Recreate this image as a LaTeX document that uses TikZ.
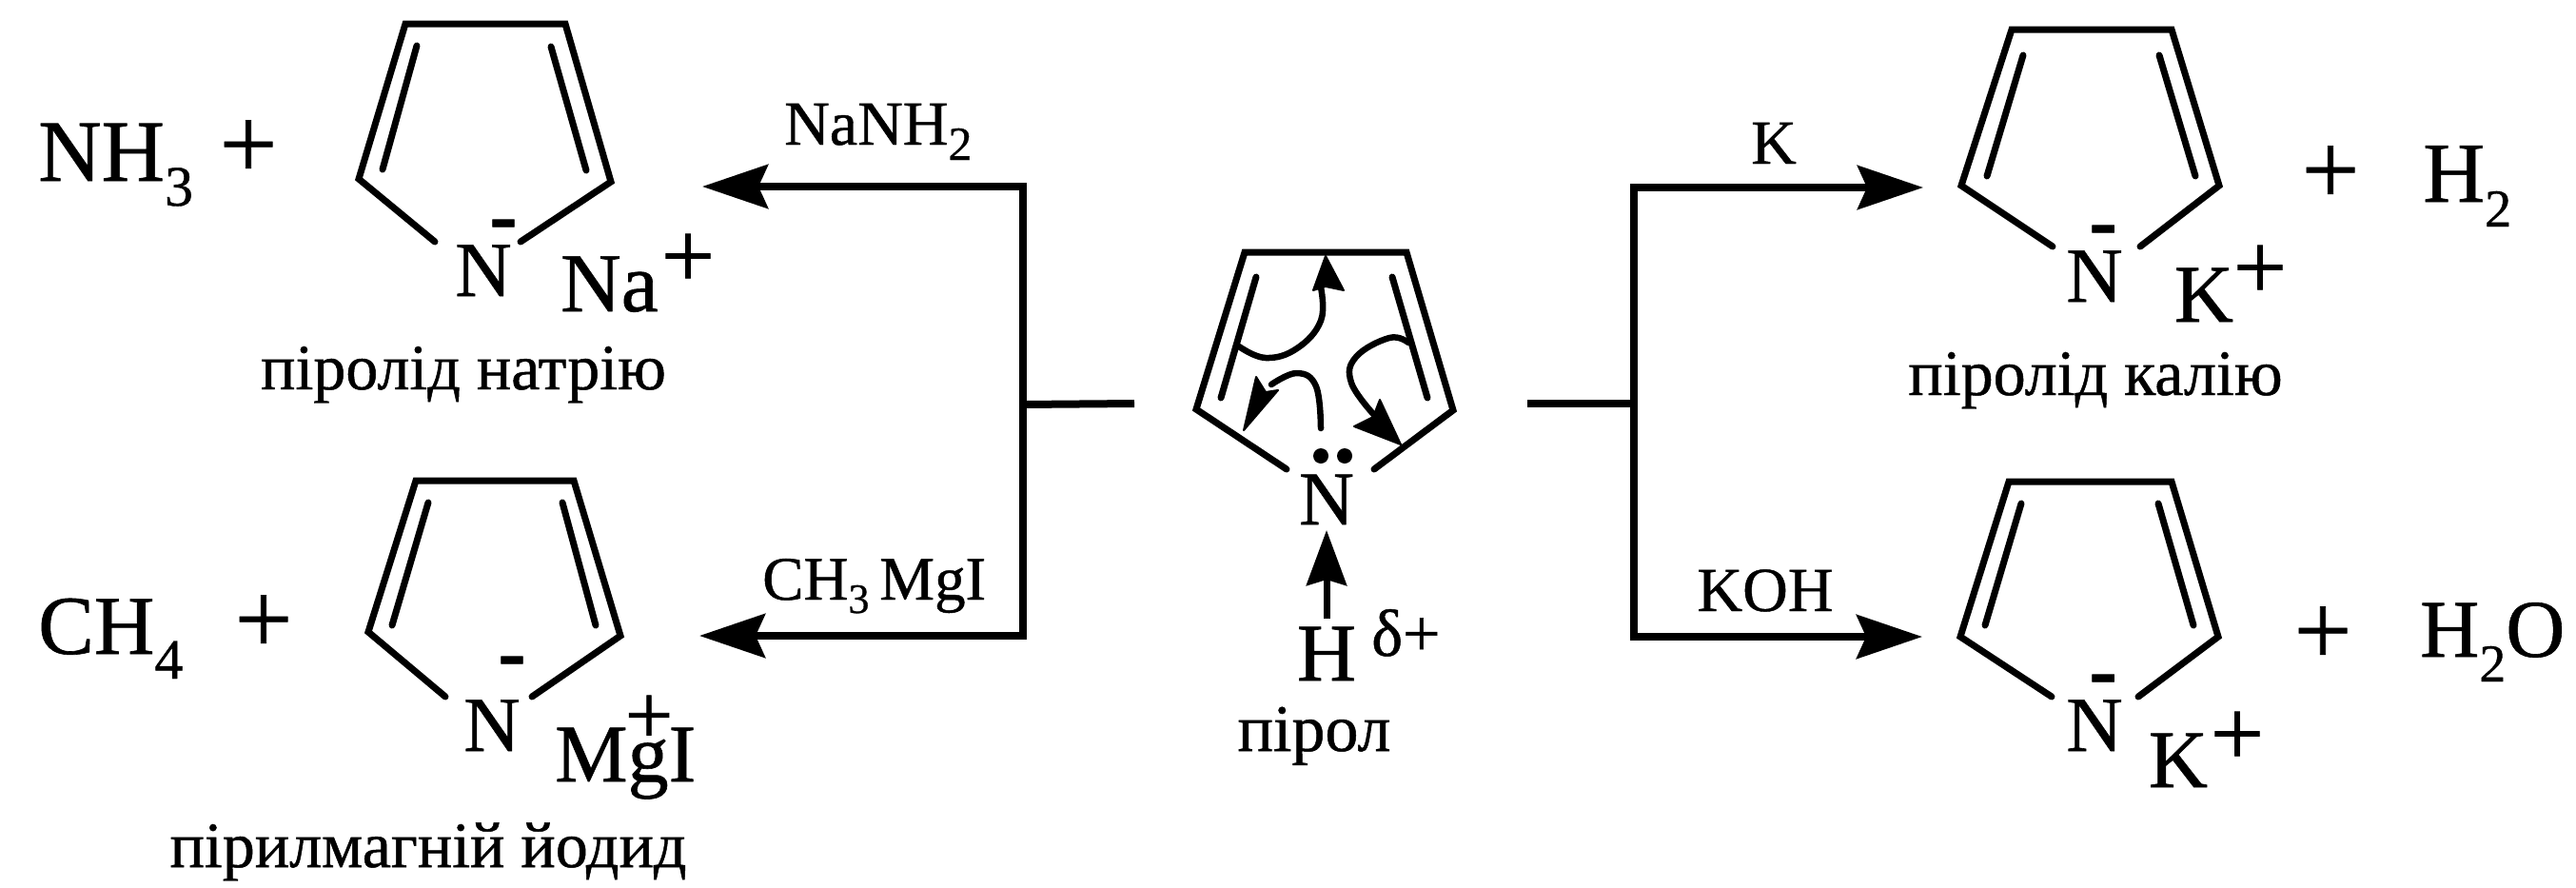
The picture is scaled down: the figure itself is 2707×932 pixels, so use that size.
\documentclass[tikz,border=0pt]{standalone}
\usepackage{fontspec}
\setmainfont[FakeBold=0.7]{Liberation Serif}
\usetikzlibrary{arrows.meta}
\newcommand\fz[1]{\fontsize{#1}{#1}\selectfont}
\newcommand\low[3]{\raisebox{-#1pt}{\fz{#2}#3}}
\tikzset{
  x=1pt,y=-1pt,
  bond/.style={line width=7pt,line join=miter,line cap=round},
  conn/.style={line width=8pt,line join=miter},
  head/.style={-{Stealth[length=69pt,width=46pt,inset=10pt]}},
  curly/.style={line width=6.5pt,line join=round,line cap=round},
  tipfill/.style={fill=black,draw=black,line width=2pt,line join=round},
  big/.style={inner sep=0,anchor=base,font=\fz{86}},
  ringn/.style={inner sep=0,anchor=base,font=\fz{82}},
  small/.style={inner sep=0,anchor=base,font=\fz{66}},
  name lbl/.style={inner sep=0,anchor=base,font=\fz{68}},
  chg/.style={inner sep=0,anchor=center,font=\fz{100}},
  pls/.style={inner sep=0,anchor=center,font=\fz{108}},
  mns/.style={inner sep=0,anchor=center,font=\bfseries\fz{88}},
}
% #1 TLx #2 TRx #3 topy #4 Lx #5 Rx #6 Ly #7 Ry #8 end-left x #9 end-right x
\newcommand\ringshape[9]{%
  \draw[bond] (#8,\ringendy) -- (#4,#6) -- (#1,#3) -- (#2,#3) -- (#5,#7) -- (#9,\ringendy);
}
\newcommand\ringendy{0}
\begin{document}
\begin{tikzpicture}
\useasboundingbox (0,0) rectangle (2707,932);
\fill[white] (0,0) rectangle (2707,932);

% ----- rings -----
\renewcommand\ringendy{254}\ringshape{426}{594}{25}{377}{642}{188}{191}{457}{547}
\draw[bond] (438,48) -- (402,178);
\draw[bond] (579,49) -- (616,179);

\renewcommand\ringendy{732}\ringshape{437}{603}{505}{387}{652}{664}{668}{468}{559}
\draw[bond] (450,528) -- (412,657);
\draw[bond] (591,528) -- (626,657);

\renewcommand\ringendy{259}\ringshape{2114}{2282}{31}{2061}{2332}{195}{195}{2157}{2249}
\draw[bond] (2126,58) -- (2088,185);
\draw[bond] (2269,58) -- (2307,185);

\renewcommand\ringendy{732}\ringshape{2111}{2282}{506}{2060}{2331}{669}{669}{2156}{2247}
\draw[bond] (2124,529) -- (2086,657);
\draw[bond] (2268,529) -- (2305,657);

\renewcommand\ringendy{493}\ringshape{1308}{1478}{265}{1257}{1527}{430}{431}{1352}{1444}
\draw[bond] (1320,291) -- (1283,418);
\draw[bond] (1463,291) -- (1500,418);

% ----- curved electron arrows -----
\draw[curly] plot[smooth,tension=.7] coordinates {(1302,364) (1330,376) (1363,366) (1388,337) (1388,302)};
\fill[tipfill] (1393,269) -- (1412,305) -- (1393,301) -- (1380,305) -- cycle;
\draw[curly] plot[smooth,tension=.7] coordinates {(1388,450) (1383,406) (1363,392) (1336,404)};
\fill[tipfill] (1307,452) -- (1320,396) -- (1330,412) -- (1343,410) -- cycle;
\draw[curly] plot[smooth,tension=.7] coordinates {(1480,360) (1460,355) (1425,375) (1420,402) (1444,436)};
\fill[tipfill] (1472,467) -- (1450,420) -- (1443,438) -- (1423,448) -- cycle;

% ----- connector nodes -----
\coordinate (jl) at (1075,425);
\coordinate (jr) at (1717,424);
\coordinate (cl) at (1192,424);
\coordinate (cr) at (1605,424);
\coordinate (ltop) at (1075,196);
\coordinate (lbot) at (1075,668);
\coordinate (rtop) at (1717,197);
\coordinate (rbot) at (1717,669);
\coordinate (pa) at (738,196);
\coordinate (pb) at (735,668);
\coordinate (pc) at (2021,197);
\coordinate (pd) at (2020,669);
\draw[conn] (cl) -- (jl);
\draw[conn] (cr) -- (jr);
\draw[conn,head] (jl) -- (ltop) -- (pa);
\draw[conn,head] (jl) -- (lbot) -- (pb);
\draw[conn,head] (jr) -- (rtop) -- (pc);
\draw[conn,head] (jr) -- (rbot) -- (pd);

% ----- central pyrrole -----
\node[big,font=\fz{80}] (cn) at (1394,551) {N};
\fill (1388,479) circle (8);
\fill (1413,479) circle (8);
\node[big,font=\fz{86}] (ch) at (1394,715) {H};
\draw[conn,line width=7pt,-{Stealth[length=58pt,width=42pt,inset=6pt]}] (1394,650) -- (1394,557);
\node[inner sep=0,anchor=base west,font=\fz{70}] (cd) at (1441,689) {δ+};
\node[name lbl,font=\fz{70}] (cp) at (1381,789) {пірол};

% ----- left products -----
\node[big,anchor=base west,font=\fz{92}] (nh) at (40,190) {NH\low{26}{60}{3}};
\node[pls] (p1) at (261,157) {+};
\node[ringn] (n1) at (508,311) {N};
\node[mns] (m1) at (529,243) {-};
\node[big,anchor=base west,font=\fz{88}] (na) at (589,327) {Na};
\node[chg] (c1) at (723,274) {+};
\node[name lbl] (l1) at (487,409) {піролід натрію};

\node[small,anchor=base west] (r1) at (824,152) {NaNH\low{16}{50}{2}};
\node[small,anchor=base west,font=\fz{65}] (r2) at (801,630) {CH\low{14}{44}{3}\,MgI};

\node[big,anchor=base west,font=\fz{88}] (ch4) at (40,687) {CH\low{26}{60}{4}};
\node[pls] (p2) at (277,656) {+};
\node[ringn] (n2) at (517,789) {N};
\node[mns] (m2) at (538,702) {-};
\node[big,anchor=base west] (mg) at (583,821) {MgI};
\node[chg,font=\fz{90}] (c2) at (682,756) {+};
\node[name lbl] (l2) at (450,911) {пірилмагній йодид};

% ----- right products -----
\node[small] (r3) at (1864,172) {K};
\node[small] (r4) at (1855,642) {KOH};

\node[ringn] (n3) at (2201,317) {N};
\node[mns] (m3) at (2210,249) {-};
\node[big] (k1) at (2316,338) {K};
\node[chg] (c3) at (2375,286) {+};
\node[pls] (p3) at (2449,184) {+};
\node[big,anchor=base west,font=\fz{90}] (h1) at (2546,212) {H\low{26}{56}{2}};
\node[name lbl] (l3) at (2202,415) {піролід калію};

\node[ringn] (n4) at (2201,789) {N};
\node[mns] (m4) at (2210,721) {-};
\node[big] (k2) at (2289,827) {K};
\node[chg] (c4) at (2351,776) {+};
\node[pls] (p4) at (2441,668) {+};
\node[big,anchor=base west] (h2) at (2543,690) {H\low{26}{56}{2}O};
\end{tikzpicture}
\end{document}
